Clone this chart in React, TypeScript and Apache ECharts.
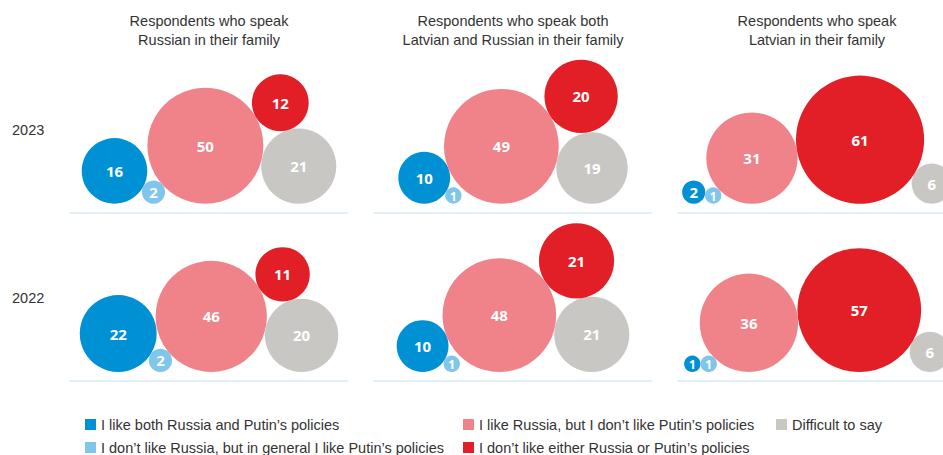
import React, { useEffect, useRef } from "react";
import * as echarts from "echarts";

// ---------- data ----------
const panelTitles = [
  "Respondents who speak\nRussian in their family",
  "Respondents who speak both\nLatvian and Russian in their family",
  "Respondents who speak\nLatvian in their family",
];
const years = ["2023", "2022"];
const categories = [
  "I like both Russia and Putin\u2019s policies",
  "I don\u2019t like Russia, but in general I like Putin\u2019s policies",
  "I like Russia, but I don\u2019t like Putin\u2019s policies",
  "Difficult to say",
  "I don\u2019t like either Russia or Putin\u2019s policies",
];
// rows: 2023, 2022 ; columns: Russian, both, Latvian
const likeBoth = [
  [16, 10, 2],
  [22, 10, 1],
];
const dislikeRussiaLikePutin = [
  [2, 1, 1],
  [2, 1, 1],
];
const likeRussiaNotPutin = [
  [50, 49, 31],
  [46, 48, 36],
];
const difficultToSay = [
  [21, 19, 6],
  [20, 21, 6],
];
const dislikeBoth = [
  [12, 20, 61],
  [11, 21, 57],
];
const seriesValues = [likeBoth, dislikeRussiaLikePutin, likeRussiaNotPutin, difficultToSay, dislikeBoth];

// ---------- styles / layout ----------
const categoryColors = ["#0090d4", "#80c6ea", "#ef8389", "#c9c7c4", "#e21f26"];
const textFont = "'Liberation Sans', 'Noto Sans', sans-serif";
const labelFont = "'Open Sans', 'Noto Sans', sans-serif";
const chartW = 943;
const panelCenters = [209, 513, 817];
const panelWidth = 278;
const rowLineY = [212.7, 381];
const gridH = 170;
const baseGap = 9;
const radiusPerSqrt = 8.2;
const columnLayouts: any[] = [
  { chain: [0, 1, 2, 3], top: 4, on: [2, 3] },
  { chain: [0, 1, 2, 3], top: 4, on: [2, 3] },
  { chain: [0, 1, 2, 4, 3] },
];
const legendLayout = [
  { cat: 0, left: 85, top: 417 },
  { cat: 1, left: 85, top: 440 },
  { cat: 2, left: 463, top: 417 },
  { cat: 4, left: 463, top: 440 },
  { cat: 3, left: 776, top: 417 },
];

function layoutPanel(values: number[], layout: any) {
  const r = values.map((v) => radiusPerSqrt * Math.sqrt(v));
  const pos: any[] = new Array(values.length);
  const placed: number[] = [];
  layout.chain.forEach((c: number) => {
    let x = 0;
    placed.forEach((p) => {
      x = Math.max(x, pos[p].x + 2 * Math.sqrt(r[c] * r[p]));
    });
    pos[c] = { x, y: baseGap + r[c], r: r[c] };
    placed.push(c);
  });
  let lo = Infinity,
    hi = -Infinity;
  placed.forEach((p) => {
    lo = Math.min(lo, pos[p].x - pos[p].r);
    hi = Math.max(hi, pos[p].x + pos[p].r);
  });
  const shift = (lo + hi) / 2;
  placed.forEach((p) => (pos[p].x -= shift));
  if (layout.top !== undefined) {
    const [a, b] = layout.on;
    const A = pos[a],
      B = pos[b],
      rt = r[layout.top];
    const dA = A.r + rt,
      dB = B.r + rt;
    const dx = B.x - A.x,
      dy = B.y - A.y;
    const d = Math.hypot(dx, dy);
    const aa = (dA * dA - dB * dB + d * d) / (2 * d);
    const h = Math.sqrt(Math.max(0, dA * dA - aa * aa));
    const ux = dx / d,
      uy = dy / d;
    let px = -uy,
      py = ux;
    if (py < 0) {
      px = -px;
      py = -py;
    }
    pos[layout.top] = { x: A.x + aa * ux + h * px, y: A.y + aa * uy + h * py, r: rt };
  }
  return pos;
}

export default function App() {
  const ref = useRef<HTMLDivElement>(null);
  useEffect(() => {
    if (!ref.current) return;
    const chart = echarts.init(ref.current, undefined, { renderer: "svg" });
    const grids: any[] = [];
    const xAxes: any[] = [];
    const yAxes: any[] = [];
    const series: any[] = [];
    years.forEach((_, ri) => {
      panelCenters.forEach((cx, ci) => {
        const g = grids.length;
        const leftPx = cx - panelWidth / 2;
        const rightPx = Math.min(cx + panelWidth / 2, chartW);
        grids.push({
          left: leftPx,
          top: rowLineY[ri] - gridH,
          width: rightPx - leftPx,
          height: gridH,
        });
        xAxes.push({
          gridIndex: g,
          type: "value",
          min: -panelWidth / 2,
          max: rightPx - cx,
          axisLine: { show: true, onZero: false, lineStyle: { color: "#d6eaf7", width: 1.5 } },
          axisTick: { show: false },
          axisLabel: { show: false },
          splitLine: { show: false },
        });
        yAxes.push({ gridIndex: g, type: "value", min: 0, max: gridH, show: false });
        const vals = seriesValues.map((s) => s[ri][ci]);
        const pos = layoutPanel(vals, columnLayouts[ci]);
        vals.forEach((v, cat) => {
          const p = pos[cat];
          series.push({
            type: "scatter",
            name: categories[cat],
            xAxisIndex: g,
            yAxisIndex: g,
            clip: false,
            symbol: "circle",
            symbolSize: 2 * p.r,
            data: [[p.x, p.y, v]],
            itemStyle: { color: categoryColors[cat], opacity: 1 },
            label: {
              show: true,
              position: "inside",
              formatter: (prm: any) => String(prm.value[2]),
              color: "#ffffff",
              fontWeight: "bold",
              fontFamily: labelFont,
              fontSize: Math.min(15, 1.45 * p.r),
            },
            emphasis: { disabled: true },
          });
        });
      });
    });

    const graphics: any[] = [];
    panelTitles.forEach((t, ci) => {
      graphics.push({
        type: "text",
        x: panelCenters[ci],
        y: 11,
        style: {
          text: t,
          align: "center",
          verticalAlign: "top",
          fontSize: 14.5,
          lineHeight: 19,
          fontFamily: textFont,
          fill: "#333333",
        },
      });
    });
    years.forEach((y, ri) => {
      graphics.push({
        type: "text",
        x: 12,
        y: rowLineY[ri] - 83,
        style: {
          text: y,
          align: "left",
          verticalAlign: "middle",
          fontSize: 14.5,
          fontFamily: textFont,
          fill: "#333333",
        },
      });
    });

    const legends = legendLayout.map((l) => ({
      data: [categories[l.cat]],
      left: l.left,
      top: l.top,
      padding: 0,
      icon: "rect",
      itemWidth: 11,
      itemHeight: 11,
      selectedMode: false,
      textStyle: { fontSize: 14.5, color: "#333333", fontFamily: textFont },
    }));

    chart.setOption({
      animation: false,
      backgroundColor: "#ffffff",
      grid: grids,
      xAxis: xAxes,
      yAxis: yAxes,
      series,
      legend: legends,
      graphic: graphics,
    });
    return () => chart.dispose();
  }, []);
  return <div ref={ref} style={{ position: "fixed", left: 0, top: 0, width: 943, height: 455 }} />;
}
